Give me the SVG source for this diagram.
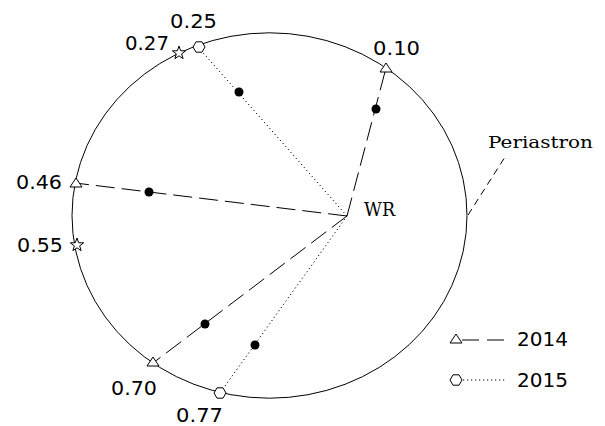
<svg xmlns="http://www.w3.org/2000/svg" xmlns:xlink="http://www.w3.org/1999/xlink" width="605" height="426" viewBox="0 0 605 426">
<style>
.bg{fill:#fff}
.orbit{fill:none;stroke:#000;stroke-width:1}
.l14{fill:none;stroke:#000;stroke-width:1;stroke-dasharray:19,7}
.l15{fill:none;stroke:#000;stroke-width:1;stroke-dasharray:1.2,2.8}
.peri{fill:none;stroke:#000;stroke-width:1;stroke-dasharray:7,5}
.mk{fill:#fff;stroke:#000;stroke-width:1}
.dot{fill:#000}
.num{font-family:"DejaVu Sans","Liberation Sans",sans-serif;font-size:19px;fill:#000}
.lbl{font-family:"DejaVu Serif","Liberation Serif",serif;font-size:19px;fill:#000}
</style>
<defs>
<path id="tri" d="M-6,4 L6,4 L0,-5 Z"/>
<path id="hex" d="M6,0 L3,5.2 L-3,5.2 L-6,0 L-3,-5.2 L3,-5.2 Z"/>
<path id="star" d="M0,-7 L1.65,-2.27 L6.66,-2.16 L2.66,0.86 L4.11,5.66 L0,2.8 L-4.11,5.66 L-2.66,0.86 L-6.66,-2.16 L-1.65,-2.27 Z"/>
</defs>
<rect class="bg" x="0" y="0" width="605" height="426"/>
<g id="orbit">
<ellipse class="orbit" cx="269.5" cy="215.5" rx="197.5" ry="182.7"/>
</g>
<g id="connectors">
<line class="l14" x1="347" y1="216" x2="386" y2="68"/>
<line class="l14" x1="347" y1="216" x2="75" y2="183"/>
<line class="l14" x1="347" y1="216" x2="153" y2="363"/>
<line class="l15" x1="347" y1="216" x2="198" y2="47"/>
<line class="l15" x1="347" y1="216" x2="220" y2="393"/>
<line class="peri" x1="468" y1="215" x2="505" y2="157"/>
</g>
<g id="dots">
<circle class="dot" cx="239" cy="92" r="4.5"/>
<circle class="dot" cx="376" cy="109" r="4.5"/>
<circle class="dot" cx="149" cy="192" r="4.5"/>
<circle class="dot" cx="205" cy="324" r="4.5"/>
<circle class="dot" cx="255" cy="345" r="4.5"/>
</g>
<g id="p010"><use href="#tri" class="mk" x="386" y="68"/><text class="num" x="373" y="55" textLength="47" lengthAdjust="spacingAndGlyphs">0.10</text></g>
<g id="p025"><use href="#hex" class="mk" x="199" y="47"/><text class="num" x="170" y="28" textLength="47" lengthAdjust="spacingAndGlyphs">0.25</text></g>
<g id="p027"><use href="#star" class="mk" x="179" y="53"/><text class="num" x="125" y="50" textLength="44" lengthAdjust="spacingAndGlyphs">0.27</text></g>
<g id="p046"><use href="#tri" class="mk" x="76" y="183"/><text class="num" x="16" y="189" textLength="46" lengthAdjust="spacingAndGlyphs">0.46</text></g>
<g id="p055"><use href="#star" class="mk" x="77" y="245"/><text class="num" x="17" y="252" textLength="46" lengthAdjust="spacingAndGlyphs">0.55</text></g>
<g id="p070"><use href="#tri" class="mk" x="153" y="362"/><text class="num" x="111" y="395" textLength="46" lengthAdjust="spacingAndGlyphs">0.70</text></g>
<g id="p077"><use href="#hex" class="mk" x="220" y="393"/><text class="num" x="176" y="422" textLength="47" lengthAdjust="spacingAndGlyphs">0.77</text></g>
<g id="wr"><text class="lbl" x="364" y="216" textLength="31" lengthAdjust="spacingAndGlyphs">WR</text></g>
<g id="periastron"><text class="lbl" x="488" y="148" textLength="105" lengthAdjust="spacingAndGlyphs" style="font-size:17px">Periastron</text></g>
<g id="legend">
<line class="l14" x1="462" y1="340" x2="506" y2="340" style="stroke-dasharray:17,8"/>
<use href="#tri" class="mk" x="456" y="339"/>
<text class="num" x="517" y="346" textLength="51" lengthAdjust="spacingAndGlyphs">2014</text>
<line class="l15" x1="463" y1="380" x2="506" y2="380"/>
<use href="#hex" class="mk" x="456" y="380"/>
<text class="num" x="517" y="387" textLength="51" lengthAdjust="spacingAndGlyphs">2015</text>
</g>
</svg>
